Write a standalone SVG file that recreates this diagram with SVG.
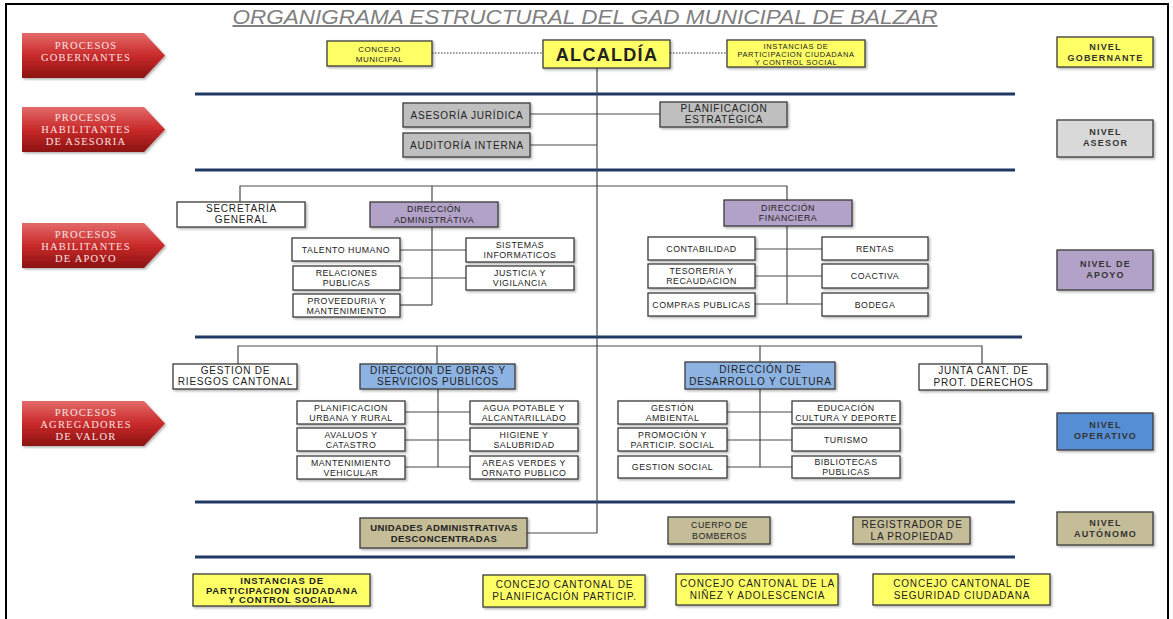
<svg xmlns="http://www.w3.org/2000/svg" width="1173" height="619" viewBox="0 0 1173 619">
<style>
.bx{stroke:#3c3c3c;stroke-width:1.3}
.w{fill:#ffffff}.y{fill:#ffff66}.g{fill:#bfbfbf}.lg{fill:#d9d9d9}.p{fill:#b3a2c7}.b{fill:#8db3e2}.db{fill:#558ed5}.t{fill:#c4bd97}
.c{stroke:#4a4a4a;stroke-width:1.2;fill:none}
.sep{stroke:#1f3864;stroke-width:3}
.dot{stroke:#333;stroke-width:1.2;stroke-dasharray:1.5 1.5}
text{font-family:"Liberation Sans",Arial,sans-serif;text-anchor:middle;fill:#222}
.s{font-size:8.8px;letter-spacing:0.5px}
.m{font-size:10px;letter-spacing:0.8px}
.xs{font-size:7.5px;letter-spacing:0.6px}
.bd{font-weight:bold}
.lv{font-size:9px;font-weight:bold;letter-spacing:1.2px;fill:#333}
.ar{font-family:"Liberation Serif","Times New Roman",serif;font-size:10.5px;fill:#f6e3e3;letter-spacing:1.2px}
.ttl{font-size:20px;font-style:italic;fill:#808080;text-decoration:underline}
</style>
<defs>
<linearGradient id="rg" x1="0" y1="0" x2="0" y2="1">
<stop offset="0" stop-color="#e46a6a"/>
<stop offset="0.5" stop-color="#c92a2a"/>
<stop offset="1" stop-color="#8c1212"/>
</linearGradient>
<filter id="sh" x="-10%" y="-10%" width="130%" height="140%">
<feDropShadow dx="1.5" dy="1.5" stdDeviation="1" flood-color="#000" flood-opacity="0.3"/>
</filter>
<path id="arrow" d="M0,0 H122 L143,22.5 L122,45 H0 Z"/>
</defs>
<rect x="0" y="0" width="1173" height="619" fill="#ffffff"/>
<rect x="6" y="4" width="1162" height="640" fill="none" stroke="#000" stroke-width="2"/>
<text class="ttl" x="585" y="24" textLength="705" lengthAdjust="spacingAndGlyphs">ORGANIGRAMA ESTRUCTURAL DEL GAD MUNICIPAL DE BALZAR</text>

<g id="process-arrows">
<g id="arrow-gobernantes"><use href="#arrow" x="22" y="33" fill="url(#rg)" filter="url(#sh)"/><text class="ar" x="86" y="49">PROCESOS</text><text class="ar" x="86" y="61">GOBERNANTES</text></g>
<g id="arrow-asesoria"><use href="#arrow" x="22" y="107" fill="url(#rg)" filter="url(#sh)"/><text class="ar" x="86" y="121">PROCESOS</text><text class="ar" x="86" y="133">HABILITANTES</text><text class="ar" x="86" y="145">DE ASESORIA</text></g>
<g id="arrow-apoyo"><use href="#arrow" x="22" y="223" fill="url(#rg)" filter="url(#sh)"/><text class="ar" x="86" y="238">PROCESOS</text><text class="ar" x="86" y="250">HABILITANTES</text><text class="ar" x="86" y="262">DE APOYO</text></g>
<g id="arrow-agregadores"><use href="#arrow" x="22" y="401" fill="url(#rg)" filter="url(#sh)"/><text class="ar" x="86" y="416">PROCESOS</text><text class="ar" x="86" y="428">AGREGADORES</text><text class="ar" x="86" y="440">DE VALOR</text></g>
</g>

<g id="separators">
<line class="sep" x1="195" y1="94" x2="1015" y2="94"/>
<line class="sep" x1="195" y1="170" x2="1015" y2="170"/>
<line class="sep" x1="195" y1="337" x2="1022" y2="337"/>
<line class="sep" x1="195" y1="502" x2="1015" y2="502"/>
<line class="sep" x1="195" y1="557" x2="1015" y2="557"/>
</g>

<g id="connectors">
<line class="dot" x1="432" y1="53" x2="543" y2="53"/>
<line class="dot" x1="670" y1="53" x2="727" y2="53"/>
<polyline class="c" points="597,68 597,533 527,533"/>
<line class="c" x1="530" y1="114" x2="660" y2="114"/>
<line class="c" x1="530" y1="145" x2="597" y2="145"/>
<polyline class="c" points="240,202 240,186 787,186 787,200"/>
<line class="c" x1="432" y1="186" x2="432" y2="202"/>
<line class="c" x1="432" y1="227" x2="432" y2="305"/>
<line class="c" x1="400" y1="250" x2="466" y2="250"/>
<line class="c" x1="400" y1="278" x2="466" y2="278"/>
<line class="c" x1="400" y1="305" x2="432" y2="305"/>
<line class="c" x1="787" y1="226" x2="787" y2="304"/>
<line class="c" x1="755" y1="249" x2="822" y2="249"/>
<line class="c" x1="755" y1="276" x2="822" y2="276"/>
<line class="c" x1="755" y1="304" x2="822" y2="304"/>
<polyline class="c" points="238,364 238,346 982,346 982,364"/>
<line class="c" x1="437" y1="346" x2="437" y2="364"/>
<line class="c" x1="760" y1="346" x2="760" y2="362"/>
<line class="c" x1="438" y1="389" x2="438" y2="467"/>
<line class="c" x1="405" y1="412" x2="470" y2="412"/>
<line class="c" x1="405" y1="440" x2="470" y2="440"/>
<line class="c" x1="405" y1="467" x2="470" y2="467"/>
<line class="c" x1="760" y1="389" x2="760" y2="467"/>
<line class="c" x1="727" y1="412" x2="792" y2="412"/>
<line class="c" x1="727" y1="440" x2="792" y2="440"/>
<line class="c" x1="727" y1="467" x2="792" y2="467"/>
</g>

<g id="concejo-municipal"><rect class="bx y" x="327" y="41" width="105" height="25" filter="url(#sh)"/><text class="s" style="font-size:8px" x="379.5" y="52">CONCEJO</text><text class="s" style="font-size:8px" x="379.5" y="61.5">MUNICIPAL</text></g>
<g id="alcaldia"><rect class="bx y" x="543" y="40" width="127" height="28" filter="url(#sh)"/><text class="bd" style="font-size:18px;letter-spacing:1.3px" x="607" y="61">ALCALDÍA</text></g>
<g id="instancias-top"><rect class="bx y" x="727" y="40" width="138" height="27" filter="url(#sh)"/><text class="xs" x="796" y="48.5">INSTANCIAS DE</text><text class="xs" x="796" y="56.5">PARTICIPACION CIUDADANA</text><text class="xs" x="796" y="64.5">Y CONTROL SOCIAL</text></g>

<g id="asesoria-juridica"><rect class="bx g" x="403" y="103" width="127" height="24" filter="url(#sh)"/><text class="m" x="467" y="119">ASESORÍA JURÍDICA</text></g>
<g id="auditoria-interna"><rect class="bx g" x="403" y="133" width="127" height="24" filter="url(#sh)"/><text class="m" x="467" y="149">AUDITORÍA INTERNA</text></g>
<g id="planificacion-estrategica"><rect class="bx g" x="660" y="102" width="127" height="25" filter="url(#sh)"/><text class="m" x="724" y="111.5">PLANIFICACIÓN</text><text class="m" x="724" y="123">ESTRATÉGICA</text></g>

<g id="secretaria-general"><rect class="bx w" x="177" y="202" width="128" height="25" filter="url(#sh)"/><text class="m" x="241.5" y="211.5">SECRETARÍA</text><text class="m" x="241.5" y="223">GENERAL</text></g>
<g id="direccion-administrativa"><rect class="bx p" x="370" y="202" width="128" height="25" filter="url(#sh)"/><text class="s" x="434" y="212">DIRECCIÓN</text><text class="s" x="434" y="222.5">ADMINISTRÁTIVA</text></g>
<g id="talento-humano"><rect class="bx w" x="292" y="238" width="108" height="23" filter="url(#sh)"/><text class="s" x="346" y="252.5">TALENTO HUMANO</text></g>
<g id="sistemas-informaticos"><rect class="bx w" x="466" y="238" width="108" height="24" filter="url(#sh)"/><text class="s" x="520" y="248">SISTEMAS</text><text class="s" x="520" y="258">INFORMATICOS</text></g>
<g id="relaciones-publicas"><rect class="bx w" x="293" y="266" width="107" height="24" filter="url(#sh)"/><text class="s" x="346.5" y="276">RELACIONES</text><text class="s" x="346.5" y="286">PUBLICAS</text></g>
<g id="justicia-vigilancia"><rect class="bx w" x="466" y="266" width="108" height="24" filter="url(#sh)"/><text class="s" x="520" y="276">JUSTICIA Y</text><text class="s" x="520" y="286">VIGILANCIA</text></g>
<g id="proveeduria"><rect class="bx w" x="293" y="294" width="107" height="23" filter="url(#sh)"/><text class="s" x="346.5" y="303.5">PROVEEDURIA Y</text><text class="s" x="346.5" y="313.5">MANTENIMIENTO</text></g>

<g id="direccion-financiera"><rect class="bx p" x="724" y="200" width="128" height="26" filter="url(#sh)"/><text class="s" x="788" y="210.5">DIRECCIÓN</text><text class="s" x="788" y="221">FINANCIERA</text></g>
<g id="contabilidad"><rect class="bx w" x="648" y="237" width="107" height="23" filter="url(#sh)"/><text class="s" x="701.5" y="251.5">CONTABILIDAD</text></g>
<g id="rentas"><rect class="bx w" x="822" y="237" width="106" height="23" filter="url(#sh)"/><text class="s" x="875" y="251.5">RENTAS</text></g>
<g id="tesoreria"><rect class="bx w" x="648" y="264" width="107" height="24" filter="url(#sh)"/><text class="s" x="701.5" y="274">TESORERIA Y</text><text class="s" x="701.5" y="284">RECAUDACION</text></g>
<g id="coactiva"><rect class="bx w" x="822" y="264" width="106" height="24" filter="url(#sh)"/><text class="s" x="875" y="279">COACTIVA</text></g>
<g id="compras-publicas"><rect class="bx w" x="648" y="293" width="107" height="23" filter="url(#sh)"/><text class="s" x="701.5" y="307.5">COMPRAS PUBLICAS</text></g>
<g id="bodega"><rect class="bx w" x="822" y="293" width="106" height="23" filter="url(#sh)"/><text class="s" x="875" y="307.5">BODEGA</text></g>

<g id="gestion-riesgos"><rect class="bx w" x="173" y="364" width="124" height="25" filter="url(#sh)"/><text class="m" x="235.5" y="373.5">GESTION DE</text><text class="m" x="235.5" y="385">RIESGOS CANTONAL</text></g>
<g id="direccion-obras"><rect class="bx b" x="360" y="364" width="155" height="25" filter="url(#sh)"/><text class="m" x="438" y="373.5">DIRECCIÓN DE OBRAS Y</text><text class="m" x="438" y="385">SERVICIOS PUBLICOS</text></g>
<g id="direccion-desarrollo"><rect class="bx b" x="685" y="362" width="150" height="27" filter="url(#sh)"/><text class="m" x="760.5" y="373">DIRECCIÓN DE</text><text class="m" x="760.5" y="385">DESARROLLO Y CULTURA</text></g>
<g id="junta-cantonal"><rect class="bx w" x="919" y="364" width="128" height="26" filter="url(#sh)"/><text class="m" x="983.5" y="374">JUNTA CANT. DE</text><text class="m" x="983.5" y="386">PROT. DERECHOS</text></g>

<g id="planificacion-urbana"><rect class="bx w" x="297" y="401" width="108" height="23" filter="url(#sh)"/><text class="s" x="351" y="410.5">PLANIFICACION</text><text class="s" x="351" y="420.5">URBANA Y RURAL</text></g>
<g id="agua-potable"><rect class="bx w" x="470" y="401" width="108" height="23" filter="url(#sh)"/><text class="s" x="524" y="410.5">AGUA POTABLE Y</text><text class="s" x="524" y="420.5">ALCANTARILLADO</text></g>
<g id="avaluos"><rect class="bx w" x="297" y="428" width="108" height="23" filter="url(#sh)"/><text class="s" x="351" y="437.5">AVALUOS Y</text><text class="s" x="351" y="447.5">CATASTRO</text></g>
<g id="higiene"><rect class="bx w" x="470" y="428" width="108" height="23" filter="url(#sh)"/><text class="s" x="524" y="437.5">HIGIENE Y</text><text class="s" x="524" y="447.5">SALUBRIDAD</text></g>
<g id="mantenimiento-vehicular"><rect class="bx w" x="297" y="456" width="108" height="23" filter="url(#sh)"/><text class="s" x="351" y="465.5">MANTENIMIENTO</text><text class="s" x="351" y="475.5">VEHICULAR</text></g>
<g id="areas-verdes"><rect class="bx w" x="470" y="456" width="108" height="23" filter="url(#sh)"/><text class="s" x="524" y="465.5">AREAS VERDES Y</text><text class="s" x="524" y="475.5">ORNATO PUBLICO</text></g>

<g id="gestion-ambiental"><rect class="bx w" x="618" y="401" width="109" height="23" filter="url(#sh)"/><text class="s" x="672.5" y="410.5">GESTIÓN</text><text class="s" x="672.5" y="420.5">AMBIENTAL</text></g>
<g id="educacion"><rect class="bx w" x="792" y="401" width="108" height="23" filter="url(#sh)"/><text class="s" x="846" y="410.5">EDUCACIÓN</text><text class="s" x="846" y="420.5">CULTURA Y DEPORTE</text></g>
<g id="promocion"><rect class="bx w" x="618" y="428" width="109" height="23" filter="url(#sh)"/><text class="s" x="672.5" y="437.5">PROMOCIÓN Y</text><text class="s" x="672.5" y="447.5">PARTICIP. SOCIAL</text></g>
<g id="turismo"><rect class="bx w" x="792" y="428" width="108" height="23" filter="url(#sh)"/><text class="s" x="846" y="442.5">TURISMO</text></g>
<g id="gestion-social"><rect class="bx w" x="618" y="456" width="109" height="22" filter="url(#sh)"/><text class="s" x="672.5" y="470">GESTION SOCIAL</text></g>
<g id="bibliotecas"><rect class="bx w" x="792" y="456" width="108" height="22" filter="url(#sh)"/><text class="s" x="846" y="465">BIBLIOTECAS</text><text class="s" x="846" y="475">PUBLICAS</text></g>

<g id="unidades-desconcentradas"><rect class="bx t" x="360" y="518" width="167" height="30" filter="url(#sh)"/><text class="bd" style="font-size:9.5px;letter-spacing:0.4px" x="444" y="531">UNIDADES ADMINISTRATIVAS</text><text class="bd" style="font-size:9.5px;letter-spacing:0.4px" x="444" y="542">DESCONCENTRADAS</text></g>
<g id="cuerpo-bomberos"><rect class="bx t" x="668" y="517" width="102" height="27" filter="url(#sh)"/><text class="s" x="719.5" y="528">CUERPO DE</text><text class="s" x="719.5" y="538.5">BOMBEROS</text></g>
<g id="registrador"><rect class="bx t" x="853" y="517" width="117" height="27" filter="url(#sh)"/><text class="m" x="912" y="527.5">REGISTRADOR DE</text><text class="m" x="912" y="539.5">LA PROPIEDAD</text></g>

<g id="instancias-bottom"><rect class="bx y" x="193" y="574" width="177" height="32" filter="url(#sh)"/><text class="bd" style="font-size:9.5px;letter-spacing:0.8px" x="282" y="584">INSTANCIAS DE</text><text class="bd" style="font-size:9.5px;letter-spacing:0.8px" x="282" y="593.5">PARTICIPACION CIUDADANA</text><text class="bd" style="font-size:9.5px;letter-spacing:0.8px" x="282" y="603">Y CONTROL SOCIAL</text></g>
<g id="concejo-planificacion"><rect class="bx y" x="483" y="575" width="162" height="32" filter="url(#sh)"/><text class="m" x="564.5" y="588">CONCEJO CANTONAL DE</text><text class="m" x="564.5" y="600">PLANIFICACIÓN PARTICIP.</text></g>
<g id="concejo-ninez"><rect class="bx y" x="676" y="574" width="162" height="31" filter="url(#sh)"/><text class="m" x="757.5" y="587">CONCEJO CANTONAL DE LA</text><text class="m" x="757.5" y="599">NIÑEZ Y ADOLESCENCIA</text></g>
<g id="concejo-seguridad"><rect class="bx y" x="873" y="574" width="177" height="31" filter="url(#sh)"/><text class="m" x="962" y="587">CONCEJO CANTONAL DE</text><text class="m" x="962" y="599">SEGURIDAD CIUDADANA</text></g>

<g id="nivel-gobernante"><rect class="bx y" x="1057" y="37" width="96" height="30" filter="url(#sh)"/><text class="lv" x="1105.5" y="50">NIVEL</text><text class="lv" x="1105.5" y="61">GOBERNANTE</text></g>
<g id="nivel-asesor"><rect class="bx lg" x="1057" y="120" width="96" height="37" filter="url(#sh)"/><text class="lv" x="1105.5" y="135">NIVEL</text><text class="lv" x="1105.5" y="146">ASESOR</text></g>
<g id="nivel-apoyo"><rect class="bx p" x="1057" y="250" width="96" height="40" filter="url(#sh)"/><text class="lv" x="1105.5" y="267">NIVEL DE</text><text class="lv" x="1105.5" y="278">APOYO</text></g>
<g id="nivel-operativo"><rect class="bx db" x="1057" y="413" width="96" height="37" filter="url(#sh)"/><text class="lv" x="1105.5" y="428">NIVEL</text><text class="lv" x="1105.5" y="439">OPERATIVO</text></g>
<g id="nivel-autonomo"><rect class="bx t" x="1057" y="512" width="96" height="33" filter="url(#sh)"/><text class="lv" x="1105.5" y="525.5">NIVEL</text><text class="lv" x="1105.5" y="536.5">AUTÓNOMO</text></g>
</svg>
